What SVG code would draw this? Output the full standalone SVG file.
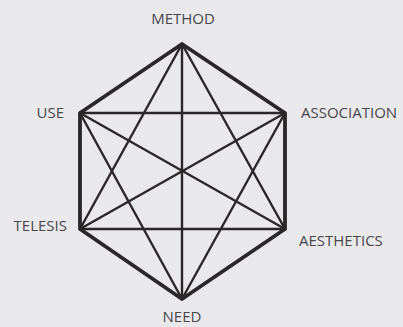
<svg xmlns="http://www.w3.org/2000/svg" width="403" height="327" viewBox="0 0 403 327">
<style>
.bg{fill:#e9e9eb}
.edge{stroke:#2b2729;stroke-width:3.8;stroke-linecap:round;stroke-linejoin:round;fill:none}
.diag{stroke:#2b2729;stroke-width:2.4;stroke-linecap:round;fill:none}
.lbl{font-family:"Open Sans","Liberation Sans",sans-serif;font-size:15px;fill:#48464c}
</style>
<rect class="bg" x="0" y="0" width="403" height="327"/>
<g id="connectors">
<polygon class="edge" points="182,44 285,113 285,229 182,299 80,229 80,113"/>
<line class="diag" x1="182" y1="44" x2="285" y2="229"/>
<line class="diag" x1="182" y1="44" x2="182" y2="299"/>
<line class="diag" x1="182" y1="44" x2="80" y2="229"/>
<line class="diag" x1="285" y1="113" x2="182" y2="299"/>
<line class="diag" x1="285" y1="113" x2="80" y2="229"/>
<line class="diag" x1="285" y1="113" x2="80" y2="113"/>
<line class="diag" x1="285" y1="229" x2="80" y2="229"/>
<line class="diag" x1="285" y1="229" x2="80" y2="113"/>
<line class="diag" x1="182" y1="299" x2="80" y2="113"/>
</g>
<g id="method"><text class="lbl" x="183" y="24" text-anchor="middle">METHOD</text></g>
<g id="association"><text class="lbl" x="301" y="118">ASSOCIATION</text></g>
<g id="aesthetics"><text class="lbl" x="299" y="246">AESTHETICS</text></g>
<g id="need"><text class="lbl" x="182" y="322" text-anchor="middle">NEED</text></g>
<g id="telesis"><text class="lbl" x="67" y="231" text-anchor="end">TELESIS</text></g>
<g id="use"><text class="lbl" x="64" y="118" text-anchor="end">USE</text></g>
</svg>
